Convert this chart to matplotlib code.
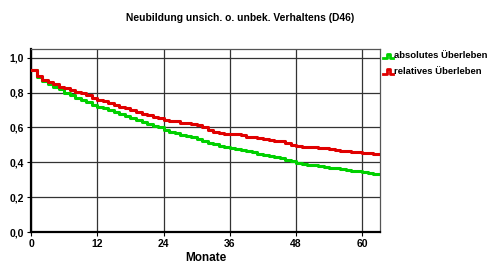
import matplotlib
matplotlib.use('Agg')
import matplotlib.pyplot as plt
from matplotlib.lines import Line2D

# --- DATA ---
months = list(range(0, 64))
absolut = [0.93, 0.89, 0.865, 0.85, 0.835, 0.82, 0.80, 0.785, 0.77, 0.755,
           0.745, 0.73, 0.72, 0.71, 0.70, 0.69, 0.675, 0.665, 0.655, 0.645,
           0.63, 0.62, 0.61, 0.60, 0.585, 0.575, 0.568, 0.557, 0.55, 0.545,
           0.535, 0.525, 0.51, 0.503, 0.495, 0.487, 0.48, 0.475, 0.47, 0.465,
           0.457, 0.448, 0.442, 0.436, 0.43, 0.425, 0.415, 0.405, 0.398, 0.392,
           0.387, 0.382, 0.378, 0.374, 0.37, 0.366, 0.362, 0.357, 0.352, 0.348,
           0.346, 0.341, 0.336, 0.332]
relativ = [0.93, 0.895, 0.875, 0.86, 0.85, 0.835, 0.825, 0.815, 0.805, 0.795,
           0.785, 0.77, 0.76, 0.75, 0.74, 0.73, 0.72, 0.71, 0.70, 0.69,
           0.68, 0.67, 0.66, 0.652, 0.645, 0.64, 0.635, 0.628, 0.625, 0.62,
           0.615, 0.605, 0.586, 0.575, 0.567, 0.565, 0.565, 0.56, 0.555, 0.548,
           0.545, 0.54, 0.535, 0.53, 0.525, 0.52, 0.51, 0.50, 0.495, 0.49,
           0.49, 0.486, 0.484, 0.48, 0.475, 0.47, 0.468, 0.465, 0.462, 0.46,
           0.455, 0.452, 0.45, 0.448]
x_ticks = [0, 12, 24, 36, 48, 60]
y_ticks = [0.0, 0.2, 0.4, 0.6, 0.8, 1.0]
y_labels = ['0,0', '0,2', '0,4', '0,6', '0,8', '1,0']
labels = ['absolutes Überleben', 'relatives Überleben']
colors = ['#00D000', '#E00000']

plt.rcParams['font.family'] = ['Liberation Sans', 'DejaVu Sans']

fig = plt.figure(figsize=(4.93, 2.68), dpi=100)
ax = fig.add_axes([0.063, 0.134, 0.708, 0.683])

ax.step(months, absolut, where='post', color=colors[0], lw=2.2, zorder=3)
ax.step(months, relativ, where='post', color=colors[1], lw=2.2, zorder=4)

ax.set_xlim(0, 63.2)
ax.set_ylim(0, 1.05)
ax.set_xticks(x_ticks)
ax.set_yticks(y_ticks)
ax.set_yticklabels(y_labels)
ax.grid(True, color='#333333', lw=0.9)
ax.set_axisbelow(True)
ax.tick_params(labelsize=7.5, length=3, width=0.8, pad=2)
for t in ax.get_xticklabels() + ax.get_yticklabels():
    t.set_fontweight('bold')

for s in ['left', 'bottom']:
    ax.spines[s].set_linewidth(1.6)
for s in ['top', 'right']:
    ax.spines[s].set_linewidth(0.9)
    ax.spines[s].set_color('#555555')

ax.set_xlabel('Monate', fontsize=8.5, fontweight='bold', labelpad=2)
fig.text(0.487, 0.933, 'Neubildung unsich. o. unbek. Verhaltens (D46)',
         ha='center', va='center', fontsize=7.4, fontweight='bold')

# legend with step glyphs
for i, (lab, c) in enumerate(zip(labels, colors)):
    yc = 1 - (56 + i * 15) / 268
    x0 = 383 / 493
    w = 10 / 493
    h = 5 / 268
    fig.add_artist(Line2D([x0, x0 + w * 0.35, x0 + w * 0.35, x0 + w * 0.7, x0 + w * 0.7, x0 + w],
                          [yc - h / 2, yc - h / 2, yc + h / 2, yc + h / 2, yc - h / 2, yc - h / 2],
                          color=c, lw=2, transform=fig.transFigure))
    fig.text(x0 + w + 1 / 493, yc, lab, ha='left', va='center', fontsize=6.8, fontweight='bold')

fig.savefig('out.png', dpi=100)
